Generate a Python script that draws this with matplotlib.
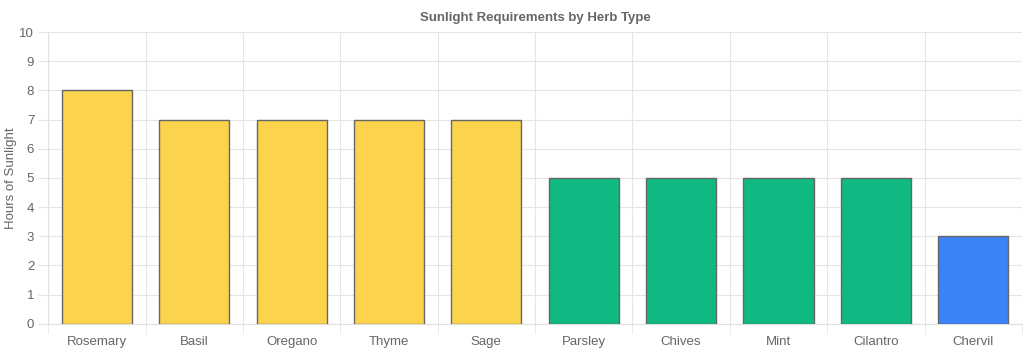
import matplotlib.pyplot as plt
import numpy as np

plt.rcParams['font.family'] = ['Liberation Sans', 'DejaVu Sans']

herbs = ['Rosemary', 'Basil', 'Oregano', 'Thyme', 'Sage',
         'Parsley', 'Chives', 'Mint', 'Cilantro', 'Chervil']
hours = [8, 7, 7, 7, 7, 5, 5, 5, 5, 3]
colors = ['#FCD34D'] * 5 + ['#10B981'] * 4 + ['#3B82F6']

fig = plt.figure(figsize=(10.24, 3.52), dpi=100)
ax = fig.add_axes([0.047, 0.08, 0.951, 0.829])

x = np.arange(len(herbs))
ax.bar(x, hours, width=0.72, color=colors, edgecolor='#666666', linewidth=1, zorder=3)

ax.set_xlim(-0.5, len(herbs) - 0.5)
ax.set_ylim(0, 10)
ax.set_yticks(range(0, 11))
ax.set_xticks(x)
ax.set_xticklabels(herbs)
ax.set_xticks(np.arange(-0.5, len(herbs)), minor=True)

ax.grid(True, axis='y', color='#e5e5e5', linewidth=0.8, zorder=0)
ax.grid(True, axis='x', which='minor', color='#e5e5e5', linewidth=0.8, zorder=0)
ax.tick_params(axis='x', which='major', length=0, pad=9, labelsize=9.5, labelcolor='#666666')
ax.tick_params(axis='x', which='minor', length=7, color='#e5e5e5')
ax.tick_params(axis='y', length=7, color='#e5e5e5', labelsize=9.5, labelcolor='#666666', pad=3)

for s in ['top', 'right']:
    ax.spines[s].set_visible(False)
for s in ['left', 'bottom']:
    ax.spines[s].set_color('#e0e0e0')

ax.set_ylabel('Hours of Sunlight', fontsize=9.5, color='#666666')
ax.yaxis.set_label_coords(-0.032, 0.5)
ax.set_title('Sunlight Requirements by Herb Type', fontsize=9.5, fontweight='bold',
             color='#666666', pad=8)

fig.savefig('out.png', dpi=100)
